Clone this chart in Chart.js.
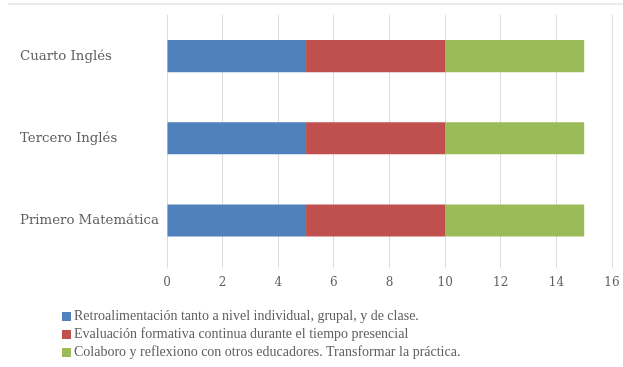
<!DOCTYPE html>
<html>
<head>
<meta charset="utf-8">
<script src="https://cdn.jsdelivr.net/npm/chart.js@4"></script>
<style>
  html, body { margin: 0; padding: 0; background: #ffffff; }
  #wrap { position: relative; width: 623px; height: 367px; overflow: hidden; background: #ffffff; }
  #topline { position: absolute; left: 8px; right: 0; top: 3px; height: 2px; background: #ececec; }
  #chart { position: absolute; left: 0; top: 0; }
  #legend { position: absolute; left: 62px; top: 307px; font-family: "Liberation Serif", "DejaVu Serif", serif; font-size: 14px; color: #5f5f5f; }
  #legend .item { height: 18px; line-height: 18px; white-space: nowrap; }
  #legend .box { display: inline-block; width: 9px; height: 9px; margin-right: 3px; vertical-align: -1px; }
</style>
</head>
<body>
<div id="wrap">
  <div id="topline"></div>
  <canvas id="chart" width="623" height="367"></canvas>
  <div id="legend"></div>
</div>
<script>
// Groups, listed top to bottom
const categories = ['Cuarto Inglés', 'Tercero Inglés', 'Primero Matemática'];

// Series names
const seriesNames = [
  'Retroalimentación tanto a nivel individual, grupal, y de clase.',
  'Evaluación formativa continua durante el tiempo presencial',
  'Colaboro y reflexiono con otros educadores. Transformar la práctica.'
];

// Values per group (same order as categories)
const retroalimentacion = [5, 5, 5];
const evaluacionFormativa = [5, 5, 5];
const colaboroReflexiono = [5, 5, 5];

// Value axis ticks
const xTicks = [0, 2, 4, 6, 8, 10, 12, 14, 16];

const seriesColors = ['#4f81bd', '#c0504d', '#9bbb59'];
const seriesValues = [retroalimentacion, evaluacionFormativa, colaboroReflexiono];

const textColor = '#5f5f5f';
const serifFont = '"DejaVu Serif", "Liberation Serif", serif';

const datasets = seriesNames.map((name, i) => ({
  label: name,
  data: seriesValues[i],
  backgroundColor: seriesColors[i],
  borderWidth: 0,
  barPercentage: 0.39,
  categoryPercentage: 1.0
}));

new Chart(document.getElementById('chart'), {
  type: 'bar',
  data: { labels: categories, datasets: datasets },
  options: {
    indexAxis: 'y',
    responsive: false,
    animation: false,
    layout: { padding: { left: 20, right: 11, top: 15, bottom: 69 } },
    plugins: {
      legend: { display: false },
      tooltip: { enabled: false }
    },
    scales: {
      x: {
        stacked: true,
        min: xTicks[0],
        max: xTicks[xTicks.length - 1],
        afterBuildTicks: (axis) => { axis.ticks = xTicks.map(v => ({ value: v })); },
        afterFit: (axis) => { axis.paddingLeft = 0; axis.paddingRight = 0; },
        grid: { color: '#dcdcdc', lineWidth: 1, tickLength: 6, drawTicks: true },
        border: { display: false },
        ticks: {
          color: textColor,
          font: { family: serifFont, size: 12 },
          padding: 8
        }
      },
      y: {
        stacked: true,
        grid: { display: false },
        border: { display: false },
        afterFit: (axis) => { axis.width = 147; axis.paddingTop = 0; axis.paddingBottom = 0; },
        ticks: {
          color: textColor,
          font: { family: serifFont, size: 13.3 },
          crossAlign: 'far',
          padding: 9
        }
      }
    }
  }
});

// Legend as text rows under the plot
const legend = document.getElementById('legend');
seriesNames.forEach((name, i) => {
  const row = document.createElement('div');
  row.className = 'item';
  const box = document.createElement('span');
  box.className = 'box';
  box.style.background = seriesColors[i];
  row.appendChild(box);
  row.appendChild(document.createTextNode(name));
  legend.appendChild(row);
});
</script>
</body>
</html>
